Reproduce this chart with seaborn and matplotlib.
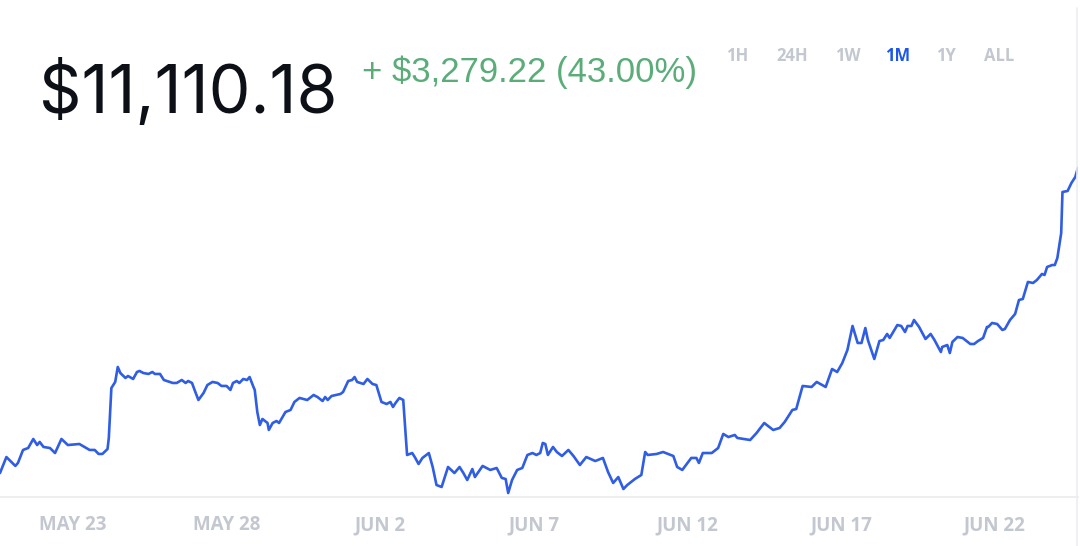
import numpy as np
import pandas as pd
import seaborn as sns
import matplotlib.pyplot as plt
from matplotlib import font_manager
from matplotlib.lines import Line2D

# hours since 2019-05-20 15:00
start = pd.Timestamp('2019-05-20 15:00')
hours = [0, 5, 12, 14, 18, 22, 26, 29, 31, 34,
         39, 43, 48, 53, 62, 70, 74, 77, 80, 84,
         85, 87, 90, 92, 94, 98, 100, 104, 107, 109,
         112, 116, 119, 121, 125, 128, 135, 138, 142, 145,
         147, 150, 152, 155, 159, 162, 166, 170, 173, 177,
         180, 182, 185, 187, 190, 193, 195, 198, 199, 201,
         203, 205, 209, 210, 213, 216, 218, 223, 227, 230,
         234, 240, 245, 248, 252, 254, 256, 259, 266, 268,
         272, 275, 277, 279, 284, 287, 291, 294, 298, 302,
         305, 307, 309, 312, 315, 318, 322, 324, 327, 330,
         335, 338, 341, 345, 348, 350, 355, 359, 362, 365,
         369, 371, 377, 383, 388, 392, 395, 397, 400, 404,
         408, 412, 416, 419, 422, 424, 426, 428, 432, 435,
         439, 444, 448, 453, 458, 465, 471, 475, 479, 483,
         487, 490, 496, 501, 504, 506, 513, 518, 526, 529,
         533, 540, 544, 546, 549, 556, 561, 565, 569, 574,
         576, 586, 591, 597, 604, 609, 613, 619, 622, 627,
         634, 638, 645, 650, 654, 658, 662, 666, 670, 673,
         676, 678, 683, 687, 690, 693, 695, 701, 704, 707,
         709, 712, 714, 718, 723, 727, 730, 735, 736, 740,
         742, 744, 748, 752, 758, 761, 764, 768, 771, 772,
         775, 779, 783, 785, 789, 793, 796, 799, 803, 807,
         810, 814, 816, 818, 822, 824, 826, 829, 830, 834,
         837, 840, 842]

prices = [7830.96, 8003, 7907, 7939, 8079, 8100, 8197, 8132, 8165, 8111,
          8100, 8046, 8197, 8132, 8143, 8079, 8079, 8036, 8036, 8089,
          8208, 8745, 8810, 8971, 8906, 8853, 8874, 8842, 8917, 8928,
          8906, 8896, 8917, 8896, 8896, 8831, 8799, 8799, 8831, 8799,
          8820, 8799, 8724, 8616, 8691, 8777, 8810, 8799, 8767, 8767,
          8724, 8799, 8820, 8799, 8842, 8831, 8863, 8756, 8724, 8487,
          8347, 8412, 8369, 8294, 8369, 8390, 8369, 8487, 8509, 8595,
          8638, 8616, 8670, 8648, 8605, 8648, 8616, 8659, 8681, 8702,
          8820, 8831, 8863, 8810, 8788, 8842, 8788, 8777, 8595, 8573,
          8595, 8541, 8584, 8638, 8616, 8025, 8046, 8003, 7928, 7993,
          8046, 7896, 7702, 7681, 7810, 7896, 7831, 7896, 7831, 7756,
          7874, 7788, 7907, 7864, 7885, 7778, 7767, 7616, 7756, 7864,
          7885, 8025, 8046, 8025, 8046, 8154, 8143, 8025, 8111, 8057,
          8014, 8079, 8014, 7917, 8003, 7960, 7993, 7842, 7724, 7788,
          7659, 7702, 7767, 7810, 8057, 8025, 8036, 8057, 8014, 7896,
          7864, 7993, 7993, 7939, 8046, 8046, 8100, 8251, 8218, 8240,
          8208, 8186, 8261, 8369, 8294, 8315, 8380, 8509, 8519, 8767,
          8756, 8810, 8756, 8949, 8917, 9014, 9154, 9412, 9229, 9229,
          9390, 9261, 9057, 9250, 9261, 9326, 9283, 9422, 9412, 9347,
          9412, 9412, 9476, 9401, 9272, 9326, 9261, 9132, 9186, 9207,
          9121, 9240, 9293, 9283, 9218, 9218, 9250, 9283, 9401, 9401,
          9444, 9433, 9369, 9379, 9476, 9541, 9691, 9702, 9885, 9874,
          9906, 9971, 9960, 10046, 10067, 10067, 10143, 10411, 10852, 10863,
          10949, 11013, 11110.18]

tick_dates = ['2019-05-23', '2019-05-28', '2019-06-02', '2019-06-07',
              '2019-06-12', '2019-06-17', '2019-06-22']
tick_labels = ['MAY 23', 'MAY 28', 'JUN 2', 'JUN 7', 'JUN 12', 'JUN 17', 'JUN 22']
ranges = ['1H', '24H', '1W', '1M', '1Y', 'ALL']
selected = '1M'

price_text = '$11,110.18'
change_text = '+ $3,279.22 (43.00%)'

df = pd.DataFrame({'time': start + pd.to_timedelta(hours, unit='h'), 'price': prices})


def available(names):
    out = []
    for n in names:
        try:
            font_manager.findfont(n, fallback_to_default=False)
            out.append(n)
        except Exception:
            pass
    return out or ['DejaVu Sans']


num_font = available(['Liberation Sans', 'Roboto'])[0]
ui_font = available(['Open Sans', 'Lato', 'DejaVu Sans'])[0]

sns.set_theme(style='white')
plt.rcParams['font.family'] = [ui_font, 'DejaVu Sans']

fig = plt.figure(figsize=(10.8, 5.46), dpi=100)
ax = fig.add_axes([0, 0.0897, 0.998, 0.6355])

sns.lineplot(data=df, x='time', y='price', ax=ax, color='#2f5de3', linewidth=1.9)

ax.set_xlim(df['time'].iloc[0], df['time'].iloc[-1])
ax.set_ylim(7573, 11303)
ax.set_xlabel('')
ax.set_ylabel('')
ax.set_yticks([])
ax.set_xticks(pd.to_datetime(tick_dates))
ax.set_xticklabels(tick_labels, color='#c3c7cf', fontsize=13.5, fontweight='bold')
ax.tick_params(axis='x', length=0, pad=13)
for s in ['left', 'top', 'right']:
    ax.spines[s].set_visible(False)
ax.spines['bottom'].set_color('#e9ebee')
ax.spines['bottom'].set_linewidth(1.2)

# panel border on the right
fig.add_artist(Line2D([1077 / 1080, 1077 / 1080], [0, 0.985], transform=fig.transFigure,
                      color='#eceef1', linewidth=1.2))

# big price: choose the narrowest installed face, then fit it to ~295 px wide
renderer = fig.canvas.get_renderer()
best = None
for fam in available(['Inter', 'Lato', 'Roboto', 'Noto Sans', 'Open Sans', 'Liberation Sans']):
    t = fig.text(0, 0, price_text, fontsize=55, family=fam)
    w = t.get_window_extent(renderer).width
    t.remove()
    if best is None or w < best[1]:
        best = (fam, w)
big_size = 55 * min(1.0, 298 / best[1])
fig.text(0.036, 0.793, price_text, fontsize=big_size, color='#0d1117',
         family=[best[0], 'DejaVu Sans'], va='baseline', ha='left')

fig.text(0.335, 0.850, change_text, fontsize=25, color='#5aad79', family=[num_font, 'DejaVu Sans'],
         va='baseline', ha='left')

tab_x = [737, 792, 848, 898, 946, 999]
for lbl, xp in zip(ranges, tab_x):
    on = lbl == selected
    fig.text(xp / 1080, 0.888, lbl, fontsize=12, ha='center', va='baseline',
             color='#1d56e8' if on else '#c3c7cf', fontweight='bold')

fig.savefig('out.png', dpi=100)
